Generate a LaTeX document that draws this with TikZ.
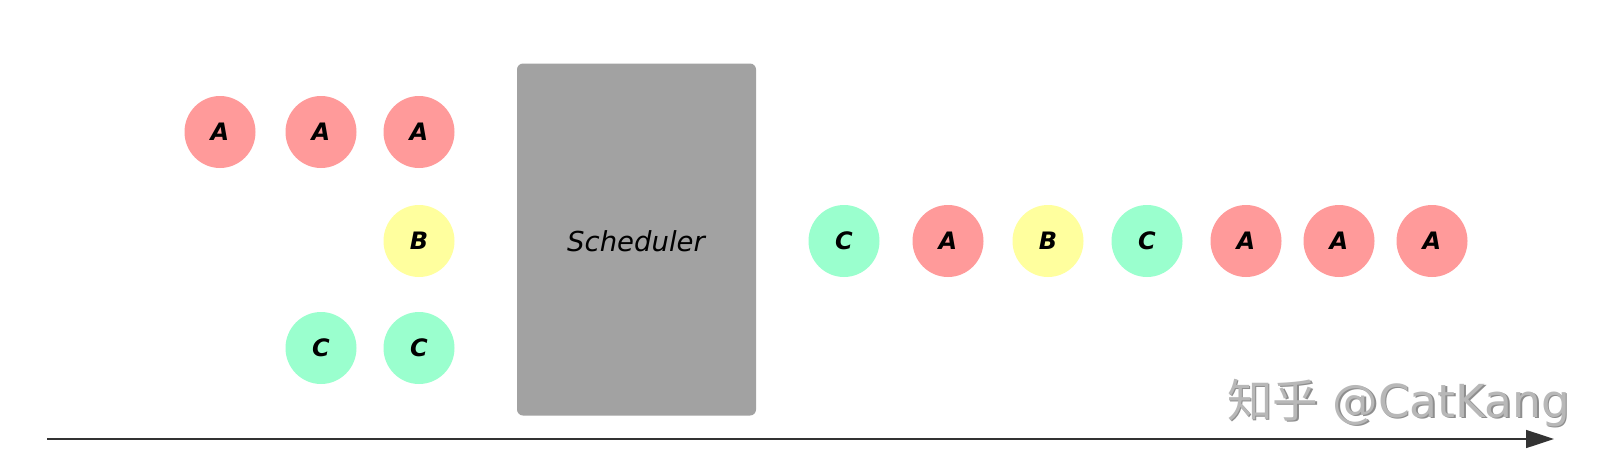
\documentclass[tikz,border=0pt]{standalone}
\usepackage{fontspec}
\setmainfont{DejaVu Sans}
\newfontfamily\cjk{Noto Sans CJK SC}
\usetikzlibrary{arrows.meta,shapes.geometric}
\definecolor{tred}{HTML}{FF9A9A}
\definecolor{tyel}{HTML}{FFFF9E}
\definecolor{tgrn}{HTML}{9AFFCE}
\definecolor{schgray}{HTML}{A2A2A2}
\definecolor{axis}{HTML}{333333}
\definecolor{wm}{HTML}{B8B8B8}
\definecolor{wmshadow}{HTML}{8E8E8E}
\begin{document}
\begin{tikzpicture}[x=1pt,y=-1pt,
  tok/.style={ellipse, minimum width=71pt, minimum height=72pt, inner sep=0pt,
    font=\fontsize{24}{24}\selectfont\itshape\bfseries},
  ta/.style={tok, fill=tred},
  tb/.style={tok, fill=tyel},
  tc/.style={tok, fill=tgrn},
  sched/.style={rectangle, rounded corners=6pt, fill=schgray, minimum width=239pt, minimum height=352pt,
    inner sep=0pt},
  schedtext/.style={inner sep=0pt, anchor=base, font=\fontsize{27.5}{27.5}\selectfont\itshape},
  wmark/.style={inner sep=0pt, anchor=base west, font=\fontsize{45.5}{45.5}\selectfont}
]
\fill[white] (0,0) rectangle (1606,472);
\useasboundingbox (0,0) rectangle (1606,472);

% input queues
\node[ta] (a1) at (220,132) {A};
\node[ta] (a2) at (321,132) {A};
\node[ta] (a3) at (419,132) {A};
\node[tb] (b1) at (419,241) {B};
\node[tc] (c1) at (321,348) {C};
\node[tc] (c2) at (419,348) {C};

% scheduler
\node[sched] (s) at (636.5,239.5) {};
\node[schedtext] (st) at (636,251) {Scheduler};

% output sequence
\node[tc] (o1) at (844,241) {C};
\node[ta] (o2) at (948,241) {A};
\node[tb] (o3) at (1048,241) {B};
\node[tc] (o4) at (1147,241) {C};
\node[ta] (o5) at (1246,241) {A};
\node[ta] (o6) at (1339,241) {A};
\node[ta] (o7) at (1432,241) {A};

% time axis
\coordinate (t0) at (47,439);
\coordinate (t1) at (1554,439);
\draw[axis, line width=1.6pt, -{Triangle[length=28pt,width=18pt]}] (t0) -- (t1);

% watermark
\node[wmark, text=wmshadow] (wms) at (1228.5,418.5) {{\cjk 知乎} @CatKang};
\node[wmark, text=wm] (wmt) at (1227,417) {{\cjk 知乎} @CatKang};
\end{tikzpicture}
\end{document}
